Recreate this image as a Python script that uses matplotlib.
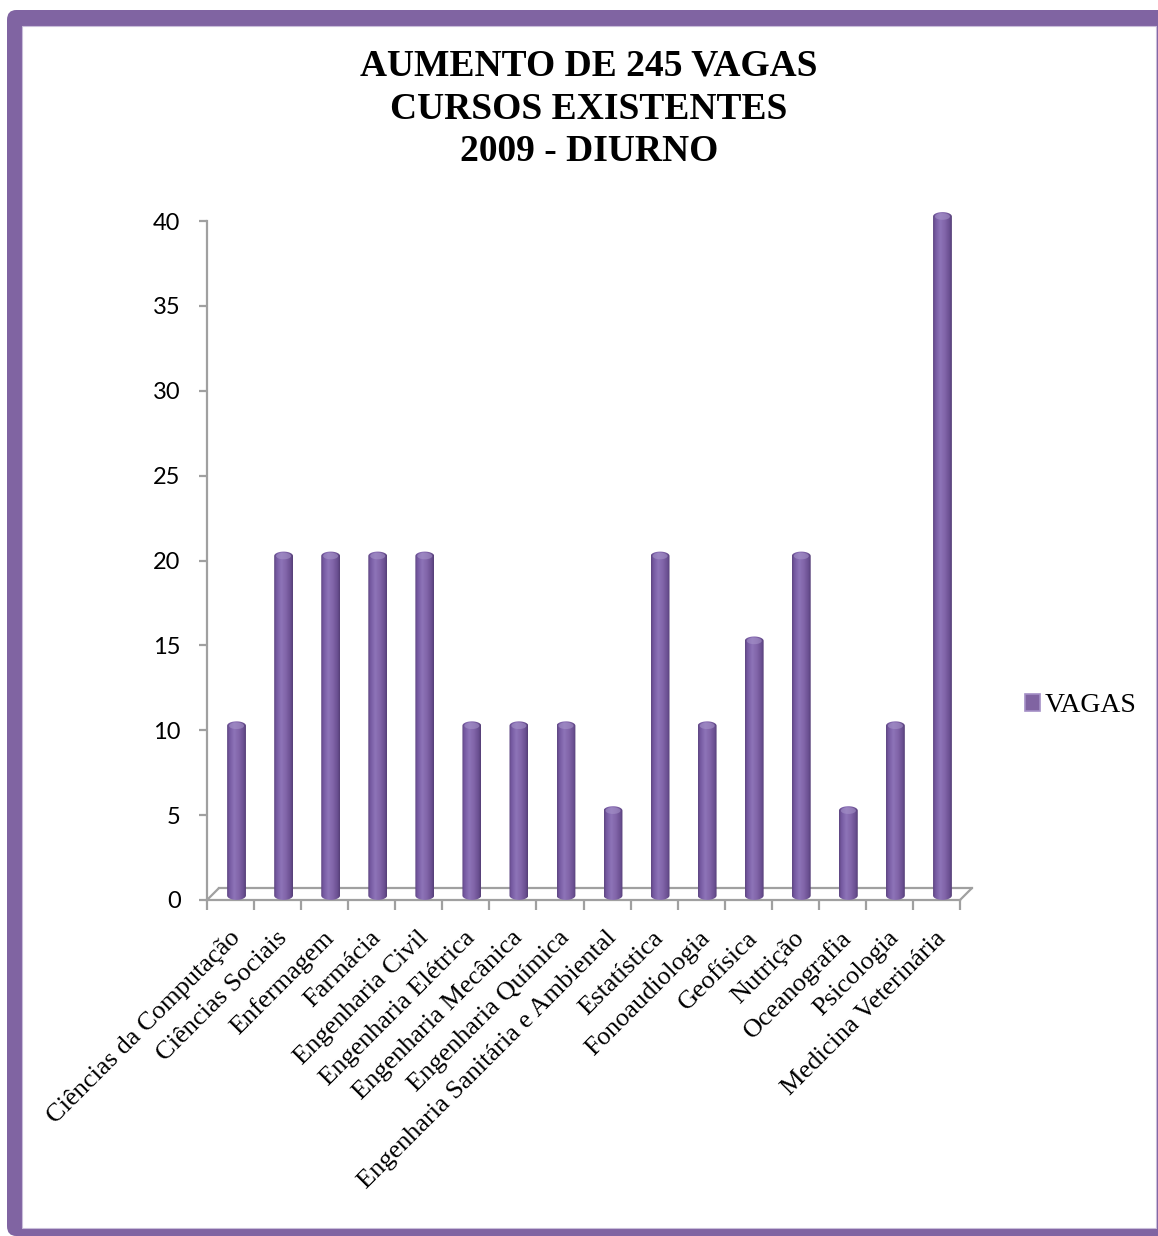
import numpy as np
import matplotlib
matplotlib.use("Agg")
import matplotlib.pyplot as plt
from matplotlib.patches import Patch, Ellipse, FancyBboxPatch, Rectangle
from matplotlib.path import Path
from matplotlib.transforms import ScaledTranslation
from matplotlib.colors import to_rgb

# data
cursos = ["Ciências da Computação", "Ciências Sociais", "Enfermagem", "Farmácia",
          "Engenharia Civil", "Engenharia Elétrica", "Engenharia Mecânica",
          "Engenharia Química", "Engenharia Sanitária e Ambiental", "Estatística",
          "Fonoaudiologia", "Geofísica", "Nutrição", "Oceanografia", "Psicologia",
          "Medicina Veterinária"]
vagas = [10, 20, 20, 20, 20, 10, 10, 10, 5, 20, 10, 15, 20, 5, 10, 40]
yticks = [0, 5, 10, 15, 20, 25, 30, 35, 40]
titulo = "AUMENTO DE 245 VAGAS\nCURSOS EXISTENTES\n2009 - DIURNO"
serie = "VAGAS"

PURPLE = "#8064A2"
GRAY = "#A0A0A0"
SERIF = "Liberation Serif"

W, H = 1158, 1236
fig = plt.figure(figsize=(W / 100, H / 100), dpi=100)

# purple frame
fig.patches.append(FancyBboxPatch((7 / W, 0), 1.2, 1 - 10 / H,
                                  boxstyle="round,pad=0,rounding_size=0.008",
                                  transform=fig.transFigure, fc=PURPLE, ec="none", zorder=-2))
fig.patches.append(Rectangle((22 / W, 8 / H), (1156 - 22) / W, (1228 - 26) / H,
                             transform=fig.transFigure, fc="white", ec="#C9BEDA", lw=0.8, zorder=-1))

# y range a bit above 40 so the top cap of the tallest bar is not cut
ymax = 41.5
px_per_unit = (900 - 221) / 40
ax_h = px_per_unit * ymax
ax = fig.add_axes([207 / W, 1 - 900 / H, (960 - 207) / W, ax_h / H])
ax.set_zorder(2)
ax.set_xlim(-0.5, len(cursos) - 0.5)
ax.set_ylim(0, ymax)
ax.patch.set_alpha(0)
for s in ["top", "right"]:
    ax.spines[s].set_visible(False)
for s in ["left", "bottom"]:
    ax.spines[s].set_color(GRAY)
    ax.spines[s].set_linewidth(1.6)
ax.spines["left"].set_bounds(0, 40)

ax.set_yticks(yticks)
ax.tick_params(axis="y", length=6, width=1.6, color=GRAY, pad=13, labelsize=17)
for lab in ax.get_yticklabels():
    lab.set_fontfamily("Lato")

x = np.arange(len(cursos))
ax.set_xticks(np.arange(-0.5, len(cursos), 1))
ax.set_xticklabels([])
ax.tick_params(axis="x", which="major", length=7, width=1.6, color=GRAY)
ax.set_xticks(x, minor=True)
ax.set_xticklabels(cursos, minor=True, rotation=45, ha="right", va="center",
                   rotation_mode="anchor", fontsize=19, family=SERIF)
ax.tick_params(axis="x", which="minor", length=0, pad=25)
shift = ScaledTranslation(0.06, 0, fig.dpi_scale_trans)
for lab in ax.get_xticklabels(minor=True):
    lab.set_transform(lab.get_transform() + shift)

# floor (3D depth)
back = ax.transData + ScaledTranslation(0.12, 0.12, fig.dpi_scale_trans)
x0, x1 = -0.5, len(cursos) - 0.5
ax.plot([x0, x1], [0, 0], color=GRAY, lw=1.6, transform=back, clip_on=False)
for xe in (x0, x1):
    ax.annotate("", xy=(xe, 0), xycoords=back, xytext=(xe, 0), textcoords=ax.transData,
                arrowprops=dict(arrowstyle="-", color=GRAY, lw=1.6, shrinkA=0, shrinkB=0))

# cylinders
mid = ax.transData + ScaledTranslation(0.06, 0.045, fig.dpi_scale_trans)
bw = 0.40
bars = ax.bar(x, vagas, width=bw, color=PURPLE, transform=mid, zorder=3)

stops = [0.0, 0.12, 0.38, 0.62, 0.88, 1.0]
cols = [to_rgb(c) for c in ["#5E4681", "#7458A0", "#8E74B8", "#8266AA", "#6A4F91", "#553E76"]]
n = 64
t = np.linspace(0, 1, n)
grad = np.stack([np.interp(t, stops, [c[i] for c in cols]) for i in range(3)], axis=-1)[None, :, :]

e = 0.26  # cap height in data units
for r in bars:
    bx0 = r.get_x()
    bx1 = bx0 + r.get_width()
    v = r.get_height()
    xc = (bx0 + bx1) / 2
    th = np.linspace(0, np.pi, 30)
    top = np.column_stack([xc + (bw / 2) * np.cos(th), v + e * np.sin(th)])
    bot = np.column_stack([xc - (bw / 2) * np.cos(th), -e * np.sin(th)])
    verts = np.vstack([top, bot, top[:1]])
    codes = [Path.MOVETO] + [Path.LINETO] * (len(verts) - 2) + [Path.CLOSEPOLY]
    outline = Path(verts, codes)
    im = ax.imshow(grad, extent=(bx0, bx1, -e, v + e), aspect="auto",
                   interpolation="bilinear", zorder=4)
    im.set_transform(mid)
    im.set_clip_path(outline, mid)
    cap = Ellipse((xc, v), bw * 0.8, e * 1.5, fc="#A896CB", ec="none", alpha=0.55,
                  transform=mid, zorder=5)
    ax.add_patch(cap)
    r.set_visible(False)

ax.set_xlim(-0.5, len(cursos) - 0.5)
ax.set_ylim(0, ymax)

# legend
h = Patch(facecolor=PURPLE, edgecolor="#A48FC6", lw=1.2, label=serie)
fig.legend(handles=[h], loc="center left", bbox_to_anchor=(1000 / W, 1 - 706 / H),
           frameon=False, prop={"family": SERIF, "size": 20},
           handlelength=0.55, handleheight=0.55, handletextpad=0.15)

fig.text(589 / W, 1 - 49 / H, titulo, ha="center", va="top", fontsize=27,
         fontweight="bold", family=SERIF, linespacing=1.28)

fig.savefig("out.png", dpi=100)
